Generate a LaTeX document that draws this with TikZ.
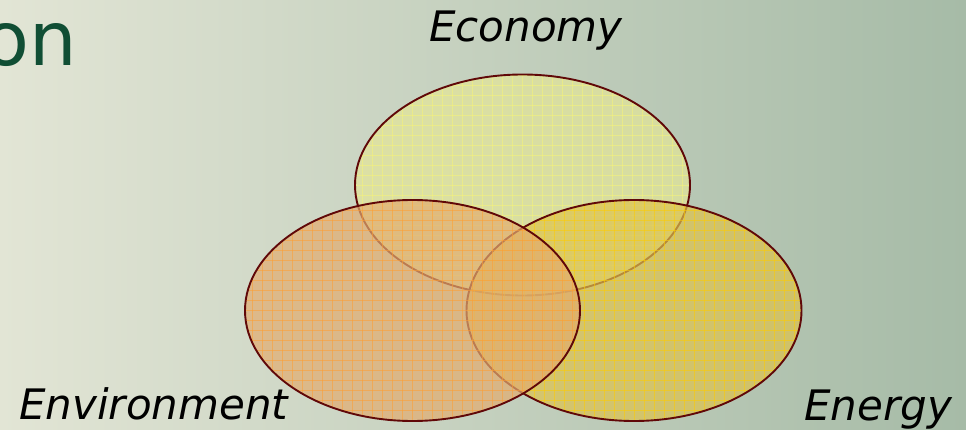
\documentclass[tikz,border=0pt]{standalone}
\usepackage{fontspec}
\setmainfont{DejaVu Sans}
\usetikzlibrary{shapes.geometric}
\definecolor{bgleft}{RGB}{226,229,213}
\definecolor{bgright}{RGB}{166,187,167}
\definecolor{titlegreen}{RGB}{16,78,52}
\definecolor{rim}{RGB}{96,8,8}
\definecolor{econfill}{RGB}{228,230,152}
\definecolor{econgrid}{RGB}{246,244,120}
\definecolor{enerfill}{RGB}{222,194,76}
\definecolor{energrid}{RGB}{255,204,0}
\definecolor{envfill}{RGB}{226,172,112}
\definecolor{envgrid}{RGB}{255,158,50}
\tikzset{
  vennset/.style n args={2}{ellipse, inner sep=0pt, minimum width=335pt, minimum height=221pt,
    fill=#1, fill opacity=0.7, draw=rim, draw opacity=1, line width=1.9pt,
    path picture={
      \foreach \i in {-17,...,17}
        \draw[#2, line width=0.9pt, draw opacity=0.55]
          ([xshift=\i*10pt]path picture bounding box.north) -- ([xshift=\i*10pt]path picture bounding box.south);
      \foreach \j in {-11,...,11}
        \draw[#2, line width=0.9pt, draw opacity=0.55]
          ([yshift=\j*10pt]path picture bounding box.west) -- ([yshift=\j*10pt]path picture bounding box.east);
    }},
  label text/.style={font=\fontsize{42}{48}\selectfont\itshape, text=black, inner sep=0pt}
}
\begin{document}
\begin{tikzpicture}[x=1pt,y=-1pt]
\useasboundingbox (0,0) rectangle (966,430);
\clip (0,0) rectangle (966,430);
\shade[left color=bgleft, right color=bgright] (0,0) rectangle (966,430);
\node[font=\fontsize{75}{84}\selectfont, text=titlegreen, inner sep=0pt, anchor=base east] (title) at (77,66) {on};
\node[vennset={econfill}{econgrid}] (economy) at (522.5,185) {};
\node[vennset={enerfill}{energrid}] (energy) at (634,310.5) {};
\node[vennset={envfill}{envgrid}] (environment) at (412.5,310.5) {};
\node[label text, anchor=base] (econlabel) at (526,42) {Economy};
\node[label text, anchor=base west] (envlabel) at (19,419) {Environment};
\node[label text, anchor=base west] (enerlabel) at (804,420) {Energy};
\end{tikzpicture}
\end{document}
